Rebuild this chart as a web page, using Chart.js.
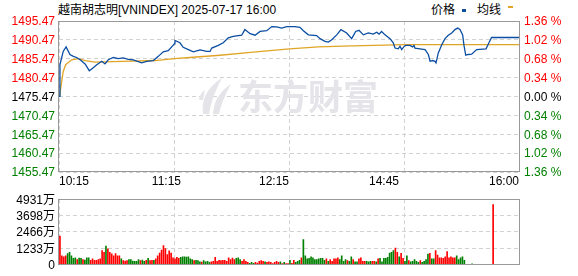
<!DOCTYPE html>
<html><head><meta charset="utf-8">
<script src="https://cdn.jsdelivr.net/npm/chart.js@4"></script>
<style>
body{margin:0;background:#fff;width:578px;height:276px;overflow:hidden;position:relative;font-family:"Liberation Sans",Arial,sans-serif;}
canvas{position:absolute;left:0;}
#c1{top:0;}
#c2{top:188px;}
.hdr{position:absolute;font-size:12px;line-height:14px;color:#000;white-space:nowrap;}
.cjk{font-family:"Noto Sans CJK SC",sans-serif;}
.mark{position:absolute;}
</style></head><body>
<div class="hdr" style="left:58px;top:2px;"><span class="cjk">越南胡志明</span>[VNINDEX] 2025-07-17 16:00</div>
<div class="hdr cjk" style="left:431px;top:2px;">价格</div>
<div class="mark" style="left:462px;top:9px;width:4px;height:3px;background:#0b4ea2"></div>
<div class="hdr cjk" style="left:477px;top:2px;">均线</div>
<div class="mark" style="left:508px;top:6px;width:5px;height:2px;background:#e0a526"></div>
<canvas id="c1" width="578" height="188"></canvas>
<canvas id="c2" width="578" height="88"></canvas>
<script>
// ---------- data ----------
const prevClose = 1475.47;
const priceTicks = [1455.47,1460.47,1465.47,1470.47,1475.47,1480.47,1485.47,1490.47,1495.47];
const volTicks = [0,1233,2466,3698,4931];
const xTickT = [0,60,120,180,240];
const xLabels = ['10:15','11:15','12:15','14:45','16:00'];

const priceT = [0,0.5,2.2,3.7,5.7,7.5,9.2,11.0,13.6,15.8,17.4,19.7,22.3,24.0,25.7,28.3,30.9,33.5,36.2,38.8,43.1,45.8,49.2,51.8,54.4,57.0,60.2,60.5,63.1,64.8,67.5,70.1,73.6,77.1,78.8,79.7,83.1,85.7,88.3,90.9,95.3,97.0,99.7,102.3,104.9,108.4,111.0,113.6,116.2,118.8,123.1,125.7,127.5,130.1,134.4,136.2,138.8,140.5,142.3,144.9,147.1,150.1,152.7,154.8,156.5,158.8,161.4,164.0,165.7,167.0,168.3,170.1,172.7,174.4,175.3,177.0,177.9,178.8,180.2,181.0,183.1,184.5,185.2,185.7,188.3,191.0,192.7,193.6,195.0,196.2,196.7,197.9,199.7,201.4,203.1,204.9,206.6,208.0,209.2,210.6,211.3,212.2,213.5,215.3,217.9,222.8,224.0,225.7,240];
const priceV = [1475.5,1483.9,1487.4,1488.6,1486.6,1486.1,1485.8,1485.2,1484.1,1482.3,1482.9,1483.9,1484.8,1484.1,1485.2,1485.8,1485.5,1485.7,1485.3,1485.2,1484.4,1484.8,1485.0,1486.1,1487.3,1487.6,1489.4,1490.3,1489.7,1488.5,1487.9,1487.3,1487.8,1487.4,1487.4,1488.3,1489.0,1489.7,1491.0,1491.4,1491.7,1493.2,1492.1,1491.7,1492.7,1492.9,1494.0,1493.9,1493.6,1494.0,1494.0,1493.8,1492.9,1491.8,1491.6,1490.8,1490.1,1489.9,1490.5,1491.8,1493.2,1492.3,1490.8,1492.7,1493.0,1491.8,1492.3,1492.0,1492.5,1492.0,1492.7,1491.8,1490.8,1489.7,1488.3,1488.1,1488.8,1487.9,1488.8,1489.0,1489.0,1488.6,1489.0,1488.3,1488.1,1487.9,1486.6,1484.8,1485.0,1484.8,1484.4,1487.0,1489.2,1490.8,1491.7,1492.3,1493.2,1493.6,1493.2,1491.8,1489.0,1486.4,1486.6,1486.7,1487.9,1488.1,1489.4,1491.1,1491.1];

const avgT = [0.3,0.9,2.2,3.5,4.7,6.6,10.1,13.6,18.8,32.7,50.1,60.2,68.3,84.0,101.4,120.2,135.3,152.7,170.1,180,240];
const avgV = [1475.5,1477.7,1482.1,1483.9,1484.4,1485.2,1485.5,1485.0,1484.6,1484.8,1485.0,1485.5,1485.8,1486.4,1487.2,1488.1,1488.6,1488.9,1489.1,1489.2,1489.2];

// volume per minute slot (万), null = no trade
const volValues = [
2153,666,600,666,844,932,666,488,533,400,
510,488,400,355,533,533,333,444,333,333,
400,444,1066,932,1399,1199,932,821,666,844,
666,666,444,311,289,311,400,400,289,266,
266,400,311,355,266,333,488,311,333,333,
444,666,888,1110,1443,1221,777,1043,888,533,
444,555,488,555,600,600,577,600,444,400,
311,333,311,222,200,311,222,266,178,222,
266,555,266,333,311,333,333,266,533,400,
510,400,488,533,400,266,400,266,178,111,
178,111,178,133,266,311,266,222,178,222,
178,89,178,266,178,222,89,178,89,89,
333,
111,333,178,266,333,533,1887,666,444,
488,600,533,400,400,444,488,488,
333,444,266,400,266,444,444,533,400,
666,266,400,311,266,600,400,222,222,
444,533,266,266,266,222,266,266,266,222,
444,488,222,488,488,555,888,932,1066,1265,
932,600,866,488,266,666,311,222,266,
400,266,178,311,178,266,400,799,866,444,
444,1066,733,533,533,488,600,999,533,600,
533,533,666,400,533,600,333,
null,null,null,67,null,null,null,null,null,null,null,null,null,null,4529];
// 1 = up (red), 0 = down (green)
const volDir = [
1,1,1,1,0,0,0,0,0,1,
0,0,1,0,0,0,1,1,1,1,
1,1,1,1,0,1,1,1,1,1,
1,1,0,1,1,1,0,0,0,0,
0,0,1,0,0,1,0,1,1,0,
1,1,1,1,1,1,1,1,1,1,
1,1,1,0,0,0,0,0,0,0,
1,0,0,0,1,0,0,0,0,1,
1,1,1,1,1,1,1,1,1,1,
1,1,0,0,0,1,1,1,1,0,
0,0,1,1,1,1,1,0,1,1,
1,1,1,1,1,0,1,0,1,1,
0,
1,1,0,0,0,1,0,0,0,
0,0,0,0,0,0,0,0,
0,1,0,1,1,1,1,1,0,
0,0,0,1,0,0,1,0,0,
1,1,1,1,0,0,0,1,1,0,
1,0,0,0,0,0,0,0,0,1,
1,0,1,1,0,0,1,0,0,
0,0,0,1,0,0,0,0,1,0,
0,1,1,1,1,1,1,1,1,1,
1,1,0,0,0,0,0,
null,null,null,0,null,null,null,null,null,null,null,null,null,null,1];

// ---------- styles ----------
const FONT = {family:'"Liberation Sans", "Noto Sans CJK SC", sans-serif', size:12};
const GRID = '#d2d2d2';
const RED = '#ff0000', GREEN = '#008000', BLACK = '#000000';
const LEFTW = 59, RIGHTW = 59;

const framePlugin = {
  id:'frame',
  afterDraw(chart){
    const a = chart.chartArea, c = chart.ctx;
    c.save(); c.strokeStyle = '#999'; c.lineWidth = 1;
    c.strokeRect(Math.round(a.left)-0.5, Math.round(a.top)+0.5, Math.round(a.right-a.left)+1, Math.round(a.bottom-a.top)-1);
    c.restore();
  }
};

const watermark = {
  id:'wm',
  beforeDatasetsDraw(chart){
    const c = chart.ctx;
    c.save();
    c.fillStyle = '#e4e4e9';
    c.font = 'bold 35px "Noto Sans CJK SC"';
    c.textBaseline = 'middle'; c.textAlign = 'left';
    c.fillText('东方财富', 238, 97);
    // logo
    c.beginPath();
    c.moveTo(203,114); c.quadraticCurveTo(200,92,222,78); c.quadraticCurveTo(212,96,209,114); c.closePath(); c.fill();
    c.beginPath();
    c.moveTo(213,114); c.quadraticCurveTo(214,95,231,84); c.quadraticCurveTo(222,100,219,114); c.closePath(); c.fill();
    c.beginPath();
    c.moveTo(199,100); c.quadraticCurveTo(200,93,205,90); c.lineTo(203,100); c.closePath(); c.fill();
    c.restore();
  }
};

const xLabelPlugin = {
  id:'xlab',
  afterDraw(chart){
    const s = chart.scales.x, c = chart.ctx;
    const align = ['left','right','right','right','right'];
    const dx = [0,7,0,-5,0];
    c.save();
    c.font = '12px "Liberation Sans"'; c.fillStyle = '#000'; c.textBaseline = 'middle';
    xLabels.forEach((l,i)=>{
      c.textAlign = align[i];
      c.fillText(l, s.getPixelForValue(xTickT[i]) + dx[i], 182);
    });
    c.restore();
  }
};

function pctLabel(v){ return Math.abs((v-prevClose)/prevClose*100).toFixed(2)+' %'; }
function lvlColor(v){ return Math.abs(v-prevClose)<0.001 ? BLACK : (v>prevClose ? RED : GREEN); }

new Chart(document.getElementById('c1'), {
  type:'line',
  data:{datasets:[
    {data:priceT.map((t,i)=>({x:t,y:priceV[i]})), borderColor:'#0b4ea2', borderWidth:1.3, pointRadius:0, tension:0, order:1},
    {data:avgT.map((t,i)=>({x:t,y:avgV[i]})), borderColor:'#e0a526', borderWidth:1.3, pointRadius:0, tension:0, order:2}
  ]},
  options:{
    responsive:false, animation:false, events:[],
    layout:{padding:{top:21,left:0,right:0,bottom:0}},
    plugins:{legend:{display:false}, tooltip:{enabled:false}},
    scales:{
      x:{type:'linear', min:0, max:240, afterBuildTicks:s=>{s.ticks = xTickT.map(v=>({value:v}));},
         ticks:{display:false}, grid:{color:GRID, drawTicks:false}, border:{display:false, dash:[4,3]},
         afterFit:s=>{s.height=16;}},
      y:{position:'left', min:priceTicks[0], max:priceTicks[priceTicks.length-1],
         afterBuildTicks:s=>{s.ticks = priceTicks.map(v=>({value:v}));},
         ticks:{font:FONT, padding:4, labelOffset:1, color:ctx=>lvlColor(ctx.tick.value), callback:v=>v.toFixed(2)},
         grid:{color:GRID, drawTicks:false}, border:{display:false, dash:[4,3]},
         afterFit:s=>{s.width=LEFTW;}},
      yR:{position:'right', min:priceTicks[0], max:priceTicks[priceTicks.length-1],
         afterBuildTicks:s=>{s.ticks = priceTicks.map(v=>({value:v}));},
         ticks:{font:FONT, padding:5, labelOffset:1, color:ctx=>lvlColor(ctx.tick.value), callback:v=>pctLabel(v)},
         grid:{display:false, drawTicks:false}, border:{display:false},
         afterFit:s=>{s.width=RIGHTW;}}
    }
  },
  plugins:[watermark, framePlugin, xLabelPlugin]
});

new Chart(document.getElementById('c2'), {
  type:'bar',
  data:{datasets:[{
    data:volValues.map((v,i)=>({x:i+0.5,y:v})),
    backgroundColor:volDir.map(d=>d===1?RED:GREEN),
    barThickness:1, borderWidth:0
  }]},
  options:{
    responsive:false, animation:false, events:[],
    layout:{padding:{top:8,left:0,right:RIGHTW,bottom:0}},
    plugins:{legend:{display:false}, tooltip:{enabled:false}},
    scales:{
      x:{type:'linear', min:0, max:240, offset:false, afterBuildTicks:s=>{s.ticks = xTickT.map(v=>({value:v}));},
         ticks:{display:false}, grid:{color:GRID, drawTicks:false, offset:false}, border:{display:false, dash:[4,3]},
         afterFit:s=>{s.height=6;}},
      y:{position:'left', min:0, max:volTicks[volTicks.length-1],
         afterBuildTicks:s=>{s.ticks = volTicks.map(v=>({value:v}));},
         ticks:{font:FONT, padding:4, labelOffset:1, color:BLACK, callback:v=>v===0?'0':v+'万'},
         grid:{color:GRID, drawTicks:false}, border:{display:false, dash:[4,3]},
         afterFit:s=>{s.width=LEFTW;}}
    }
  },
  plugins:[framePlugin]
});
</script>
</body></html>
